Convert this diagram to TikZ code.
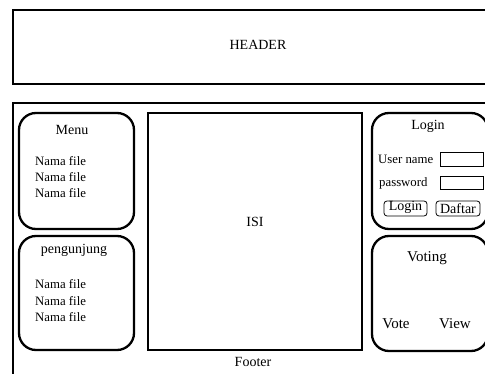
\documentclass[tikz,border=0pt]{standalone}
\usepackage{fontspec}
\setmainfont{Liberation Serif}
\begin{document}
\begin{tikzpicture}[x=1pt,y=-1pt,
  frame/.style={draw,line width=2.6pt},
  panel/.style={draw,line width=2.3pt,rounded corners=17pt},
  field/.style={draw,line width=0.8pt},
  btn/.style={draw,line width=0.8pt,rounded corners=3pt},
  txt/.style={font=\fontsize{14}{16}\selectfont,inner sep=0pt},
  big/.style={font=\fontsize{15}{17}\selectfont,inner sep=0pt},
  lbl/.style={font=\fontsize{12.8}{14}\selectfont,inner sep=0pt,anchor=west}]
\useasboundingbox (0,0) rectangle (485,374);
\begin{scope}
\clip (0,0) rectangle (485,374);
% header
\draw[frame] (13,10) rectangle (500,84);
\node[txt] (header) at (258,45) {HEADER};
% main frame
\draw[frame] (13,103) rectangle (500,390);
% menu
\draw[panel] (19,113) rectangle (134,229);
\node[txt] (menu) at (72,130) {Menu};
\node[lbl] (m1) at (35,161) {Nama file};
\node[lbl] (m2) at (35,177) {Nama file};
\node[lbl] (m3) at (35,193) {Nama file};
% pengunjung
\draw[panel] (19,236) rectangle (134,350);
\node[txt] (peng) at (74,250) {pengunjung};
\node[lbl] (p1) at (35,284) {Nama file};
\node[lbl] (p2) at (35,301) {Nama file};
\node[lbl] (p3) at (35,317) {Nama file};
% isi
\draw[frame,line width=2.3pt] (148,113) rectangle (362,350);
\node[txt] (isi) at (255,222) {ISI};
% login
\draw[panel] (372,113) rectangle (488,229);
\node[txt] (login) at (428,126) {Login};
\node[lbl] (user) at (378,159) {User name};
\draw[field] (440,152) rectangle (483,166);
\node[lbl] (pass) at (379,183) {password};
\draw[field] (440,176) rectangle (483,189);
\draw[btn] (384,201) rectangle (427,216);
\node[txt] (blogin) at (405.5,207.5) {Login};
\draw[btn] (436,201) rectangle (480,216);
\node[txt] (bdaftar) at (458,208.5) {Daftar};
% voting
\draw[panel] (372,236) rectangle (488,351);
\node[big] (voting) at (427,258) {Voting};
\node[big] (vote) at (396,324) {Vote};
\node[big] (view) at (455,324) {View};
% footer
\node[txt] (footer) at (253,362) {Footer};
\end{scope}
\end{tikzpicture}
\end{document}
